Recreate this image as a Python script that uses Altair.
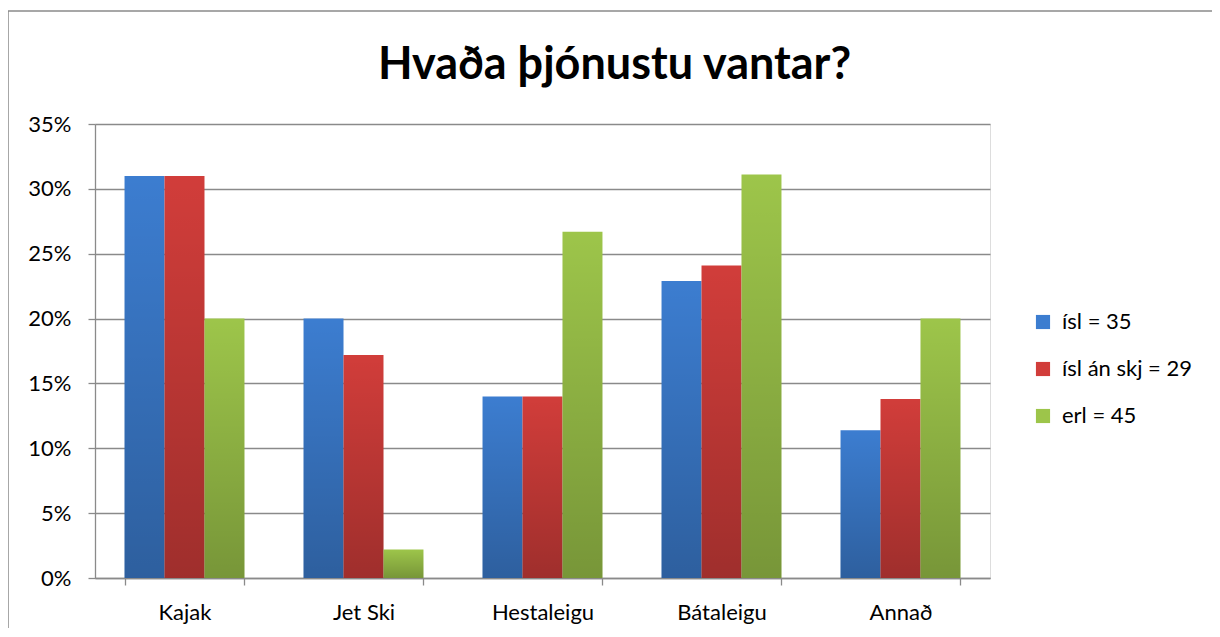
import altair as alt
import pandas as pd

categories = ["Kajak", "Jet Ski", "Hestaleigu", "Bátaleigu", "Annað"]
series = ["ísl = 35", "ísl án skj = 29", "erl = 45"]
isl = [31.0, 20.0, 14.0, 22.9, 11.4]
isl_an_skj = [31.0, 17.2, 14.0, 24.1, 13.8]
erl = [20.0, 2.2, 26.7, 31.1, 20.0]
colors = ["#3C7DD0", "#D13D3A", "#9DC54A"]
y_ticks = [0, 0.05, 0.10, 0.15, 0.20, 0.25, 0.30, 0.35]

rows = []
for s, vals in zip(series, [isl, isl_an_skj, erl]):
    for c, v in zip(categories, vals):
        rows.append({"flokkur": c, "hopur": s, "hlutfall": v / 100})
df = pd.DataFrame(rows)

FONT = "Lato"

x_enc = alt.X(
    "flokkur:N",
    sort=categories,
    title=None,
    scale=alt.Scale(paddingInner=0.33, paddingOuter=0.165),
    axis=alt.Axis(
        labelAngle=0,
        labelFontSize=22,
        labelFont=FONT,
        labelColor="#000000",
        labelPadding=17,
        tickBand="extent",
        tickSize=7,
        tickColor="#8a8a8a",
        tickWidth=1.3,
        domainColor="#8a8a8a",
        domainWidth=1.3,
        grid=False,
    ),
)
xo_enc = alt.XOffset("hopur:N", sort=series, scale=alt.Scale(paddingInner=0, paddingOuter=0))
y_enc = alt.Y(
    "hlutfall:Q",
    title=None,
    scale=alt.Scale(domain=[0, 0.35], nice=False),
    axis=alt.Axis(
        format=".0%",
        values=y_ticks,
        labelFontSize=22,
        labelFont=FONT,
        labelColor="#000000",
        labelPadding=17,
        tickSize=7,
        tickColor="#8a8a8a",
        tickWidth=1.3,
        domainColor="#8a8a8a",
        domainWidth=1.3,
        gridColor="#8a8a8a",
        gridWidth=1.3,
    ),
)

bars = alt.Chart(df).mark_bar(strokeWidth=0).encode(
    x=x_enc,
    xOffset=xo_enc,
    y=y_enc,
    color=alt.Color(
        "hopur:N",
        sort=series,
        scale=alt.Scale(domain=series, range=colors),
        legend=alt.Legend(
            title=None,
            orient="none",
            legendX=937,
            legendY=187,
            symbolType="square",
            symbolSize=200,
            symbolStrokeWidth=0,
            labelFontSize=22,
            labelFont=FONT,
            labelColor="#000000",
            labelOffset=8,
            rowPadding=25,
            padding=0,
        ),
    ),
)

shade = alt.Chart(df).mark_bar(
    strokeWidth=0,
    color=alt.Gradient(
        gradient="linear",
        stops=[
            alt.GradientStop(color="rgba(0,0,0,0)", offset=0),
            alt.GradientStop(color="rgba(0,0,0,0.24)", offset=1),
        ],
        x1=0, x2=0, y1=0, y2=1,
    ),
).encode(x=x_enc, xOffset=xo_enc, y=y_enc)

border = alt.Chart(pd.DataFrame({"k": [0]})).mark_rect(
    fill="transparent", stroke="#8a8a8a", strokeWidth=1.5
).encode(x=alt.value(-87), x2=alt.value(1400), y=alt.value(-113), y2=alt.value(900))

chart = alt.layer(border, bars, shade).properties(
    width=895,
    height=454,
    title=alt.Title(
        "Hvaða þjónustu vantar?",
        font=FONT,
        fontSize=45,
        fontWeight="bold",
        color="#000000",
        anchor="middle",
        frame="group",
        dx=72,
        offset=-78,
    ),
    autosize=alt.AutoSizeParams(type="none"),
    padding={"left": 87, "top": 116, "right": 222, "bottom": 50},
).configure_view(stroke=None).configure(background="white")

chart.save("out.html", embed_options={"renderer": "svg", "actions": False})
